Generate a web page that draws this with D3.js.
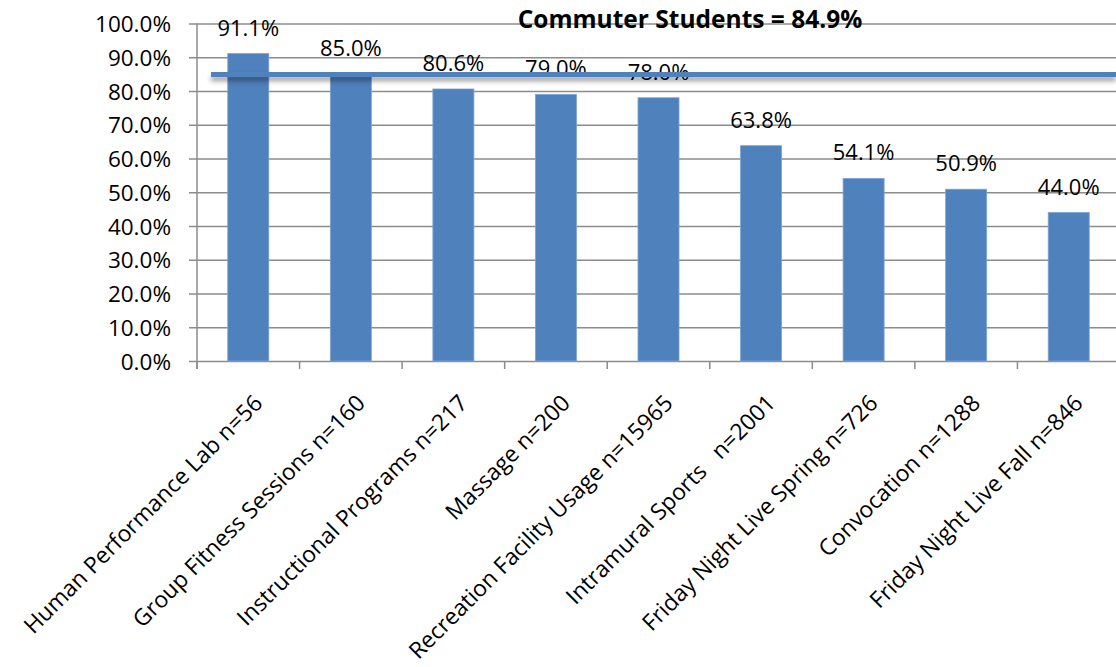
<!DOCTYPE html>
<html>
<head>
<meta charset="utf-8">
<script src="https://cdn.jsdelivr.net/npm/d3@7"></script>
<style>
  html, body { margin: 0; padding: 0; background: #ffffff; }
  svg { display: block; }
  text { font-family: "Open Sans", "Noto Sans", sans-serif; fill: #000; }
</style>
</head>
<body>
<svg id="chart" width="1116" height="667"></svg>
<script>
// Program participation rates
const categories = [
  "Human Performance Lab n=56",
  "Group Fitness Sessions n=160",
  "Instructional Programs n=217",
  "Massage n=200",
  "Recreation Facility Usage n=15965",
  "Intramural Sports   n=2001",
  "Friday Night Live Spring n=726",
  "Convocation n=1288",
  "Friday Night Live Fall n=846"
];
const values = [91.1, 85.0, 80.6, 79.0, 78.0, 63.8, 54.1, 50.9, 44.0];
const yTicks = [0, 10, 20, 30, 40, 50, 60, 70, 80, 90, 100];
const benchmarkLabel = "Commuter Students";
const benchmarkValue = 84.9;

const W = 1116, H = 667;
const plot = { left: 197, right: 1120, top: 23.5, bottom: 361 };
const barColor = "#4F81BD";
const gridColor = "#8C8C8C";

const svg = d3.select("#chart");

// Soft drop shadow under the benchmark line
const defs = svg.append("defs");
const shadow = defs.append("filter").attr("id", "lineShadow")
  .attr("filterUnits", "userSpaceOnUse")
  .attr("x", 0).attr("y", 0).attr("width", W).attr("height", H);
shadow.append("feDropShadow")
  .attr("dx", 0).attr("dy", 4).attr("stdDeviation", 2.4)
  .attr("flood-color", "#000").attr("flood-opacity", 0.4);

const x = d3.scaleBand()
  .domain(categories)
  .range([plot.left, plot.right])
  .paddingInner(0.6)
  .paddingOuter(0.3);

const y = d3.scaleLinear().domain([0, 100]).range([plot.bottom, plot.top]);

// Horizontal gridlines with left tick marks
const yAxis = d3.axisLeft(y)
  .tickValues(yTicks)
  .tickSize(-(W - plot.left))
  .tickFormat(d => d.toFixed(1) + "%");

const gy = svg.append("g")
  .attr("transform", `translate(${plot.left},0)`)
  .call(yAxis);
gy.select(".domain").remove();
gy.selectAll(".tick line")
  .attr("x1", -8)
  .attr("stroke", gridColor)
  .attr("stroke-width", 1.5);
gy.selectAll(".tick text")
  .attr("x", -26)
  .attr("font-size", 22.5)
  .attr("dy", "0.36em")
  .style("font-family", "'Open Sans', sans-serif")
  .attr("fill", "#000");

// Vertical axis line
svg.append("line")
  .attr("x1", plot.left).attr("x2", plot.left)
  .attr("y1", y(100)).attr("y2", plot.bottom + 8)
  .attr("stroke", gridColor).attr("stroke-width", 1.5);

// Category boundary ticks along the baseline
const step = x.step();
const boundaries = d3.range(categories.length + 1).map(i => plot.left + i * step);
svg.append("g").selectAll("line")
  .data(boundaries)
  .join("line")
  .attr("x1", d => d).attr("x2", d => d)
  .attr("y1", plot.bottom).attr("y2", plot.bottom + 8)
  .attr("stroke", gridColor).attr("stroke-width", 1.5);

// Bars
svg.append("g").selectAll("rect")
  .data(values)
  .join("rect")
  .attr("x", (d, i) => x(categories[i]))
  .attr("y", d => y(d))
  .attr("width", x.bandwidth())
  .attr("height", d => plot.bottom - y(d))
  .attr("fill", barColor)
  .attr("stroke", "#7EA3D3")
  .attr("stroke-width", 0.8);

// Value labels
svg.append("g").selectAll("text")
  .data(values)
  .join("text")
  .attr("x", (d, i) => x(categories[i]) + x.bandwidth() / 2)
  .attr("y", d => y(d) - 18)
  .attr("text-anchor", "middle")
  .attr("font-size", 22)
  .text(d => d.toFixed(1) + "%");

// Category labels, rotated
svg.append("g").selectAll("text")
  .data(categories)
  .join("text")
  .attr("transform", d => `translate(${x(d) + x.bandwidth() / 2 + 4},393) rotate(-45)`)
  .attr("text-anchor", "end")
  .attr("dy", "0.72em")
  .attr("font-size", 22.8)
  .attr("xml:space", "preserve")
  .text(d => d);

// Benchmark line
const yb = y(benchmarkValue);
svg.append("line")
  .attr("x1", plot.left + 14).attr("x2", W)
  .attr("y1", yb).attr("y2", yb)
  .attr("stroke", barColor)
  .attr("stroke-width", 5)
  .attr("filter", "url(#lineShadow)");

svg.append("text")
  .attr("x", 690)
  .attr("y", 28)
  .attr("text-anchor", "middle")
  .attr("font-size", 24.5)
  .attr("font-weight", "bold")
  .text(`${benchmarkLabel} = ${benchmarkValue.toFixed(1)}%`);
</script>
</body>
</html>
